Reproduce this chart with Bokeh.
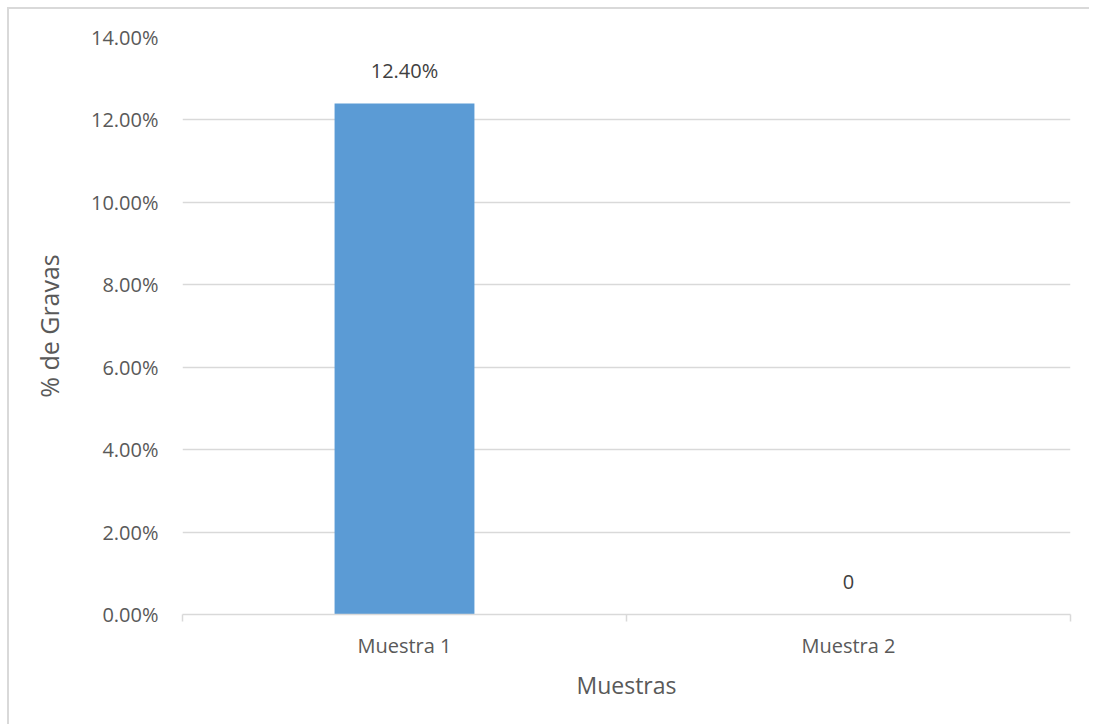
from bokeh.plotting import figure
from bokeh.layouts import column
from bokeh.models import (ColumnDataSource, FixedTicker, LabelSet, NumeralTickFormatter, Range1d)
from bokeh.core.properties import value
from bokeh.embed import file_html
from bokeh.resources import INLINE

categories = ["Muestra 1", "Muestra 2"]
gravas = [0.124, 0.0]
data_labels = ["12.40%", "0"]
y_ticks = [0.0, 0.02, 0.04, 0.06, 0.08, 0.10, 0.12, 0.14]

xs = [i + 0.5 for i in range(len(categories))]
src = ColumnDataSource(dict(x=xs, top=gravas, lab=data_labels, cat=categories))

FONT = "Open Sans"
TXT = "#595959"
GRID = "#d9d9d9"

p = figure(width=1080, height=715, output_backend="svg", toolbar_location=None,
           x_range=Range1d(0, len(categories)), y_range=Range1d(0, 0.14),
           min_border_left=173, min_border_right=19, min_border_top=28, min_border_bottom=110)
p.outline_line_color = None

p.vbar(x="x", top="top", width=0.315, source=src, color="#5B9BD5", line_color=None)

labels = LabelSet(x="x", y="top", text="lab", source=src, y_offset=33, text_align="center",
                  text_baseline="middle", text_font=value(FONT), text_font_size="20px", text_color="#404040")
p.add_layout(labels)

# y axis
p.yaxis.ticker = FixedTicker(ticks=y_ticks)
p.yaxis.formatter = NumeralTickFormatter(format="0.00%")
p.yaxis.axis_line_color = None
p.yaxis.major_tick_line_color = None
p.yaxis.minor_tick_line_color = None
p.yaxis.major_label_standoff = 18
p.yaxis.major_label_text_font = FONT
p.yaxis.major_label_text_font_size = "20px"
p.yaxis.major_label_text_color = TXT
p.yaxis.axis_label = "% de Gravas"
p.yaxis.axis_label_text_font = FONT
p.yaxis.axis_label_text_font_size = "25px"
p.yaxis.axis_label_text_font_style = "normal"
p.yaxis.axis_label_text_color = TXT
p.yaxis.axis_label_standoff = 22

p.ygrid.ticker = FixedTicker(ticks=y_ticks)
p.ygrid.grid_line_color = GRID
p.ygrid.grid_line_width = 1.5
p.xgrid.grid_line_color = None

# x axis
p.xaxis.ticker = FixedTicker(ticks=xs, minor_ticks=list(range(len(categories) + 1)))
p.xaxis.major_label_overrides = {x: c for x, c in zip(xs, categories)}
p.xaxis.axis_line_color = GRID
p.xaxis.axis_line_width = 1.5
p.xaxis.major_tick_line_color = None
p.xaxis.minor_tick_line_color = GRID
p.xaxis.minor_tick_line_width = 1.5
p.xaxis.minor_tick_in = 0
p.xaxis.minor_tick_out = 7
p.xaxis.major_label_standoff = 10
p.xaxis.major_label_text_font = FONT
p.xaxis.major_label_text_font_size = "20px"
p.xaxis.major_label_text_color = TXT
p.xaxis.axis_label = "Muestras"
p.xaxis.axis_label_text_font = FONT
p.xaxis.axis_label_text_font_size = "23px"
p.xaxis.axis_label_text_font_style = "normal"
p.xaxis.axis_label_text_color = TXT
p.xaxis.axis_label_standoff = 7

layout = column(p, margin=(7, 0, 0, 7),
                styles={"border-left": "2px solid #d9d9d9", "border-top": "2px solid #d9d9d9"})

open("out.html", "w").write(file_html(layout, INLINE))
